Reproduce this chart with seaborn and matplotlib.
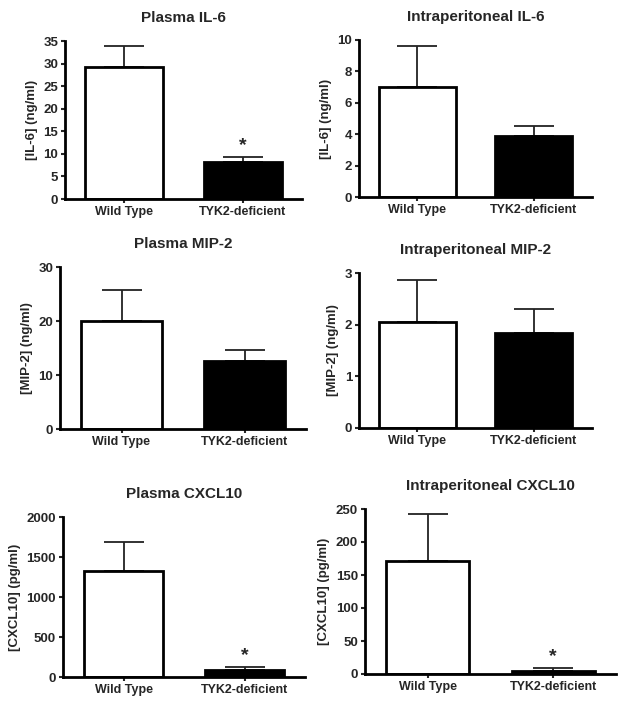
import matplotlib
matplotlib.use("Agg")
import matplotlib.pyplot as plt
import seaborn as sns
import pandas as pd

sns.set_style("ticks")
plt.rcParams['font.family'] = ['Liberation Sans', 'DejaVu Sans']
plt.rcParams['font.weight'] = 'bold'

groups = ["Wild Type", "TYK2-deficient"]
bar_colors = ["white", "black"]

titles = ["Plasma IL-6", "Intraperitoneal IL-6",
          "Plasma MIP-2", "Intraperitoneal MIP-2",
          "Plasma CXCL10", "Intraperitoneal CXCL10"]
ylabels = ["[IL-6] (ng/ml)", "[IL-6] (ng/ml)",
           "[MIP-2] (ng/ml)", "[MIP-2] (ng/ml)",
           "[CXCL10] (pg/ml)", "[CXCL10] (pg/ml)"]
ymax = [35, 10, 30, 3, 2000, 250]
ystep = [5, 2, 10, 1, 500, 50]

means = [[29.2, 8.3], [7.0, 3.9], [20.0, 12.6],
         [2.05, 1.83], [1325, 88], [171, 4.6]]
err_tops = [[33.8, 9.3], [9.62, 4.51], [25.7, 14.6],
            [2.86, 2.30], [1688, 125], [242, 8.6]]
significant = [[False, True], [False, False], [False, False],
               [False, False], [False, True], [False, True]]

# axes boxes in pixels: left, right, y of zero, y of max
boxes = [(65, 302, 199, 41), (359, 592, 197, 40),
         (60, 306, 429, 267), (359, 592, 428, 273),
         (63, 305, 677, 517), (365, 616, 674, 509)]

W, H = 628, 708
fig = plt.figure(figsize=(W / 100, H / 100), dpi=100)

for i in range(6):
    l, r, y0, yt = boxes[i]
    ax = fig.add_axes([l / W, 1 - y0 / H, (r - l) / W, (y0 - yt) / H])
    df = pd.DataFrame({"group": groups, "value": means[i]})
    sns.barplot(data=df, x="group", y="value", hue="group",
                palette=bar_colors, legend=False, width=0.66,
                edgecolor="black", linewidth=2.0, ax=ax, errorbar=None,
                zorder=2)
    lower = [0, 0]
    upper = [err_tops[i][k] - means[i][k] for k in range(2)]
    ax.errorbar([0, 1], means[i], yerr=[lower, upper], fmt="none",
                ecolor="#222222", elinewidth=1.3, capsize=14.5,
                capthick=1.3, zorder=1)
    for k in range(2):
        if significant[i][k]:
            ax.annotate("*", xy=(k, err_tops[i][k]), xytext=(0, 2),
                        textcoords="offset points", ha="center",
                        va="bottom", fontsize=14, fontweight="bold")
    ax.set_xlim(-0.5, 1.5)
    ax.set_ylim(0, ymax[i])
    ax.set_yticks(range(0, ymax[i] + 1, ystep[i]))
    ax.set_title(titles[i], fontsize=11, fontweight="bold", pad=14)
    ax.set_ylabel(ylabels[i], fontsize=9.5, fontweight="bold", labelpad=4)
    ax.set_xlabel("")
    ax.tick_params(axis="both", direction="out", length=3, width=1.5, pad=2)
    ax.tick_params(axis="x", labelsize=9)
    ax.tick_params(axis="y", labelsize=9.5)
    for lab in ax.get_xticklabels() + ax.get_yticklabels():
        lab.set_fontweight("bold")
    for s in ["left", "bottom"]:
        ax.spines[s].set_linewidth(2.0)
        ax.spines[s].set_color("black")
    sns.despine(ax=ax)

fig.savefig("out.png", dpi=100)
